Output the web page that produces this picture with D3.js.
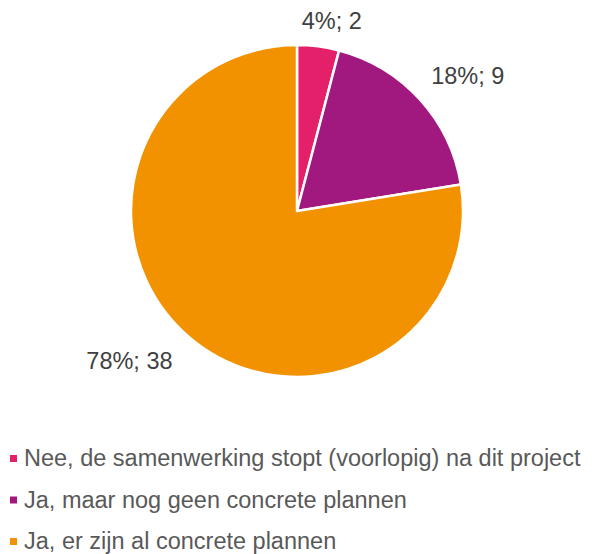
<!DOCTYPE html>
<html>
<head>
<meta charset="utf-8">
<script src="https://cdn.jsdelivr.net/npm/d3@7"></script>
<style>
  body { margin: 0; background: #fff; }
  text { font-family: "Liberation Sans", Arial, sans-serif; }
</style>
</head>
<body>
<div id="chart"></div>
<script>
var categories = [
    "Nee, de samenwerking stopt (voorlopig) na dit project",
    "Ja, maar nog geen concrete plannen",
    "Ja, er zijn al concrete plannen"
];
var counts = [2, 9, 38];
var percentLabels = ["4%", "18%", "78%"];
var sliceColors = ["#E5206B", "#A1197F", "#F39200"];

var width = 598,
    height = 554;

var pieCenter = { x: 297, y: 211 },
    radius = 166;

var svg = d3.select("#chart").append("svg")
    .attr("width", width)
    .attr("height", height);

var data = categories.map(function (c, i) {
    return { name: c, value: counts[i], pct: percentLabels[i], color: sliceColors[i] };
});

var pie = d3.pie()
    .sort(null)
    .value(function (d) { return d.value; });

var arc = d3.arc()
    .innerRadius(0)
    .outerRadius(radius);

var arcs = pie(data);

var wrapper = svg.append("g")
    .attr("transform", "translate(" + pieCenter.x + "," + pieCenter.y + ")");

wrapper.selectAll("path.slice")
    .data(arcs)
    .enter()
    .append("path")
    .attr("class", "slice")
    .attr("d", arc)
    .attr("fill", function (d) { return d.data.color; })
    .attr("stroke", "#fff")
    .attr("stroke-width", 2.5)
    .attr("stroke-linejoin", "round");

// Outside labels
var labelRadius = 192;
function midAngle(d) { return (d.startAngle + d.endAngle) / 2; }

wrapper.selectAll("text.label")
    .data(arcs)
    .enter()
    .append("text")
    .attr("class", "label")
    .attr("x", function (d) {
        var s = Math.sin(midAngle(d));
        // labels near the top are centred, nudged a little outward
        return labelRadius * s + (Math.abs(s) < 0.3 ? 80 * s : 0) - (s > 0.3 ? 8 : 0);
    })
    .attr("y", function (d) {
        var c = Math.cos(midAngle(d));
        return -labelRadius * c - (c > 0.3 && c < 0.9 ? 6 : 0) + (c < -0.3 ? 4 : 0);
    })
    .attr("dy", "0.35em")
    .attr("text-anchor", function (d) {
        var s = Math.sin(midAngle(d));
        return s > 0.3 ? "start" : (s < -0.3 ? "end" : "middle");
    })
    .attr("font-size", 23.5)
    .attr("fill", "#404040")
    .text(function (d) { return d.data.pct + "; " + d.data.value; });

// Legend
var legend = svg.append("g")
    .attr("class", "legend")
    .attr("transform", "translate(10,0)");

var legendY = d3.scalePoint()
    .domain(categories)
    .range([458, 541]);

var item = legend.selectAll("g")
    .data(data)
    .enter()
    .append("g")
    .attr("transform", function (d) { return "translate(0," + legendY(d.name) + ")"; });

item.append("rect")
    .attr("x", 0)
    .attr("y", -3)
    .attr("width", 7)
    .attr("height", 7)
    .attr("fill", function (d) { return d.color; });

item.append("text")
    .attr("x", 14)
    .attr("dy", "0.35em")
    .attr("font-size", 23.5)
    .attr("fill", "#595959")
    .text(function (d) { return d.name; });
</script>
</body>
</html>
